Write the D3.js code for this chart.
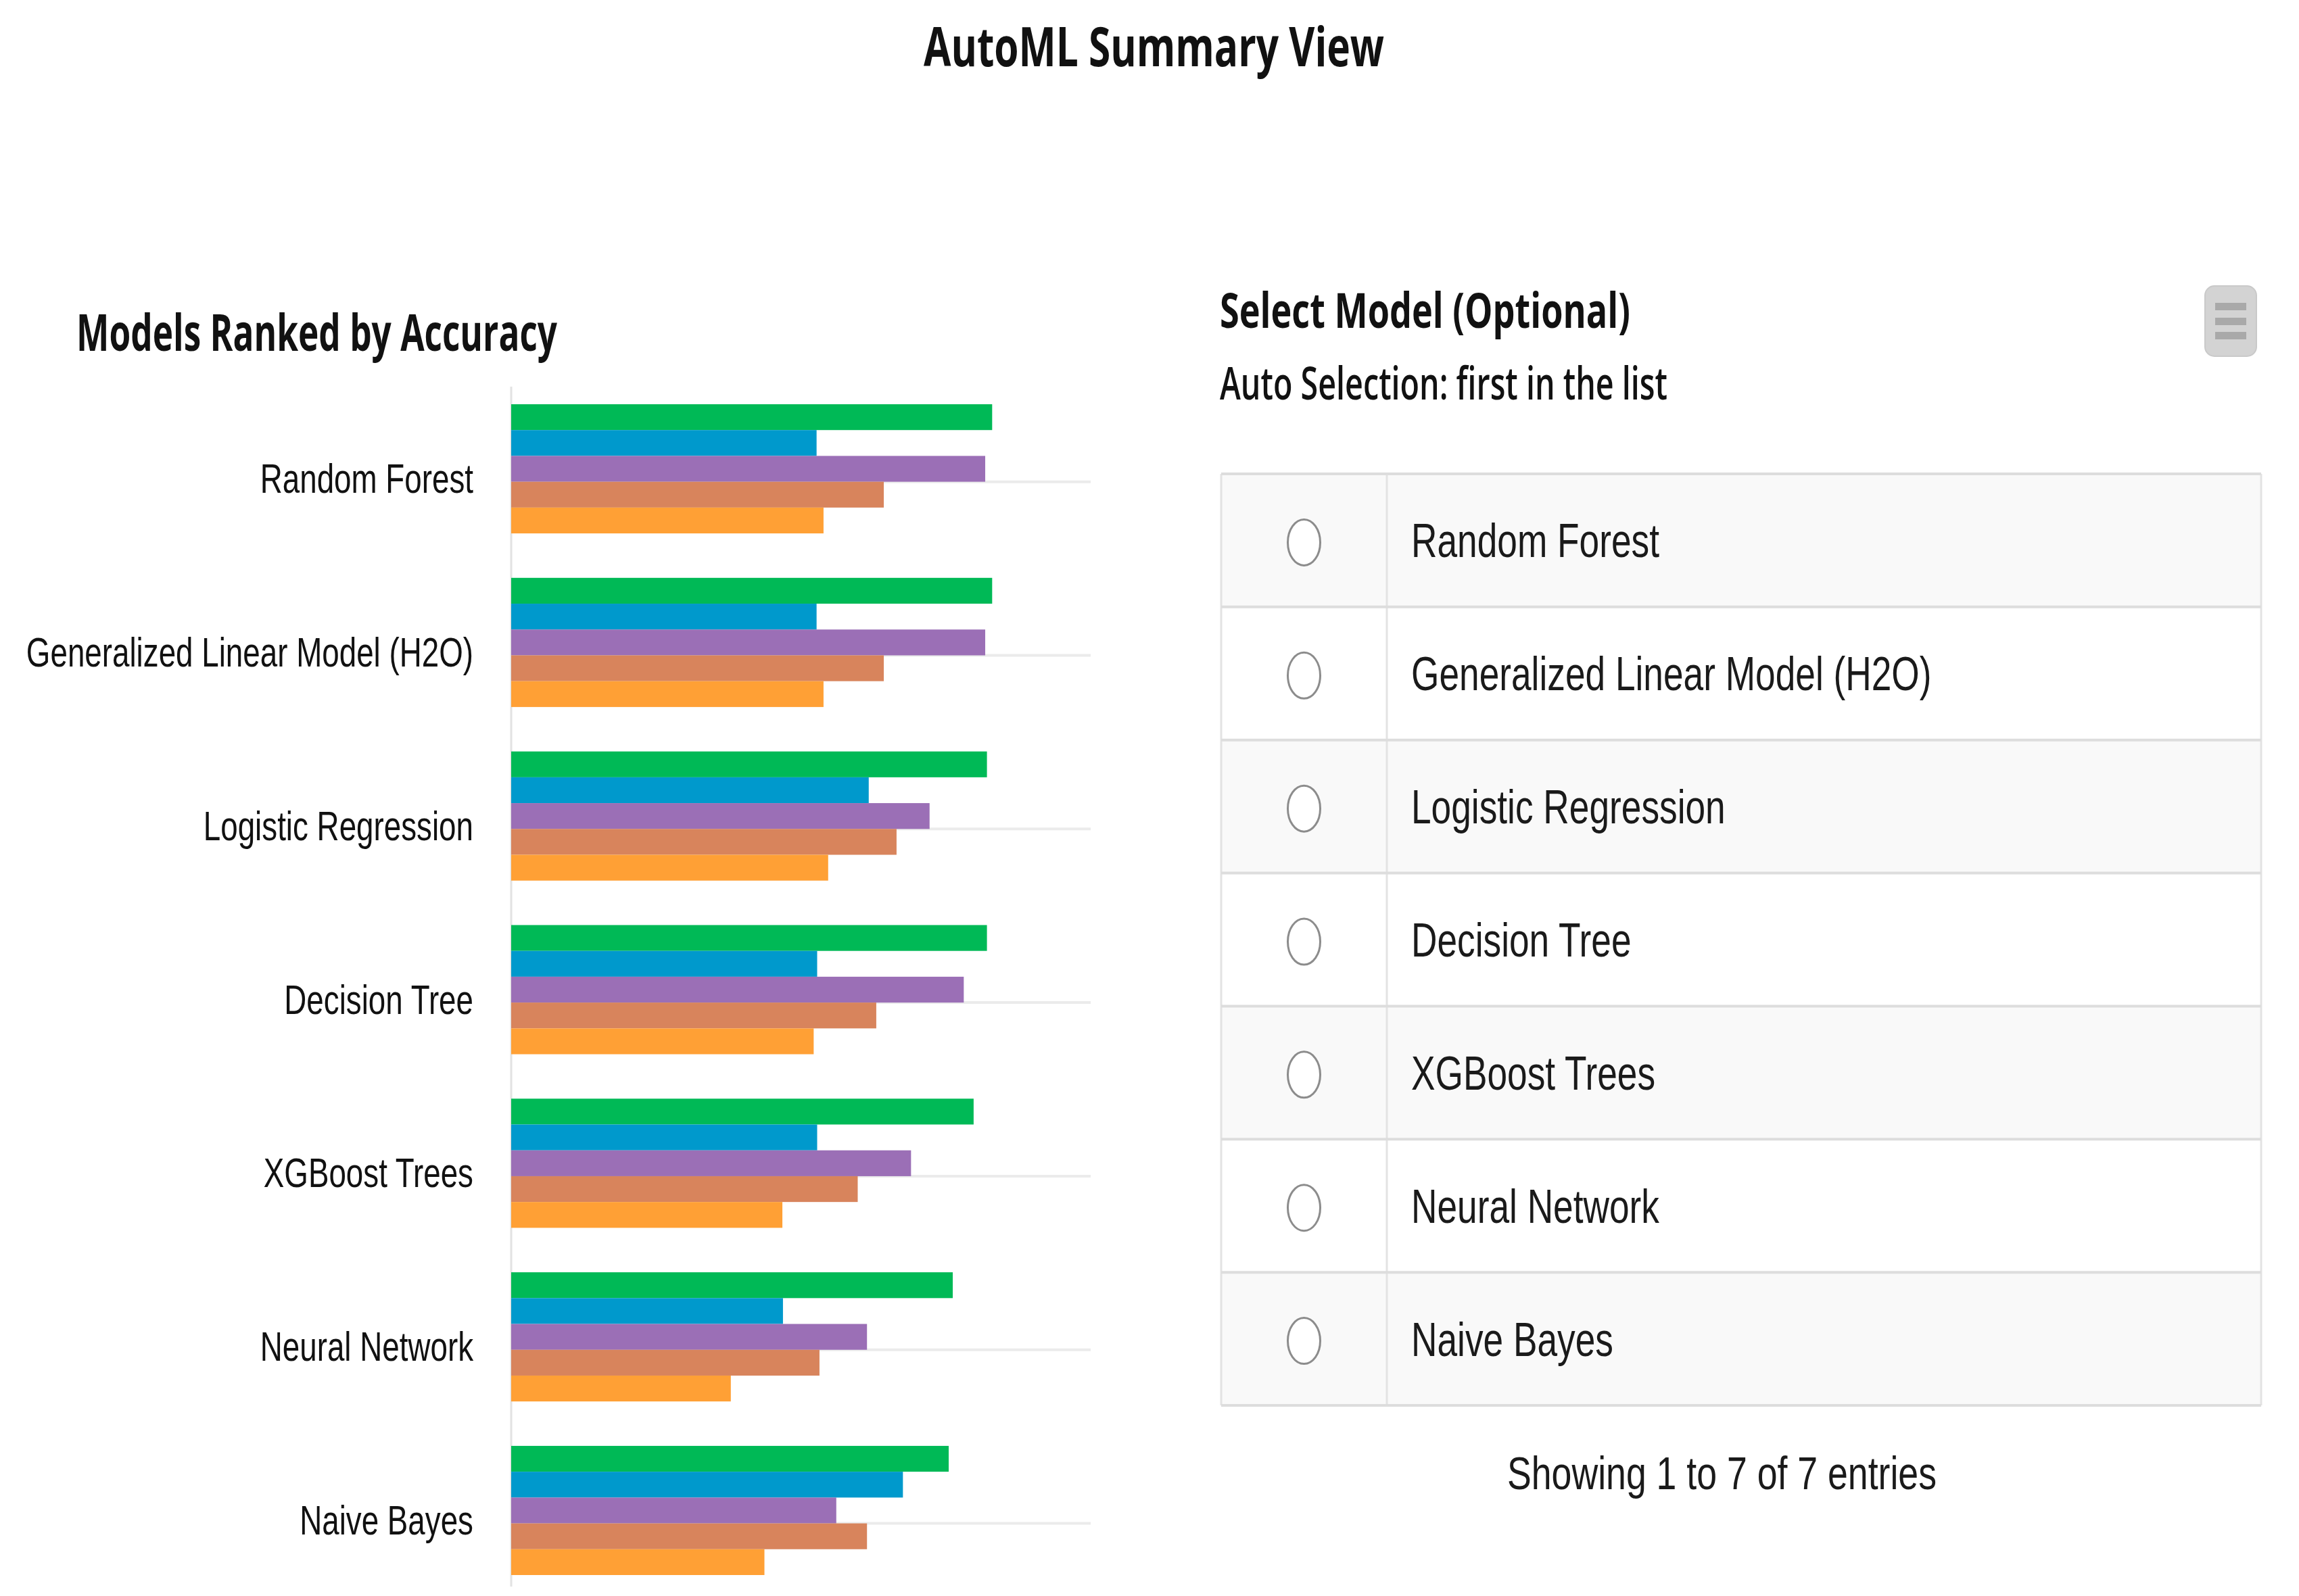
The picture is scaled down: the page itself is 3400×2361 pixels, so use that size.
<!DOCTYPE html>
<html>
<head>
<meta charset="utf-8">
<script src="https://cdn.jsdelivr.net/npm/d3@7"></script>
<style>
  html, body { margin: 0; padding: 0; background: #fff; }
  svg { display: block; }
</style>
</head>
<body>
<svg id="chart" width="3400" height="2361"></svg>
<script>
// AutoML summary view: grouped horizontal bars (left) + model picker table (right)

// ─── Data ─────────────────────────────────────────────────────────────────────
const models = [
  'Random Forest',
  'Generalized Linear Model (H2O)',
  'Logistic Regression',
  'Decision Tree',
  'XGBoost Trees',
  'Neural Network',
  'Naive Bayes',
];
const metrics   = ['Accuracy', 'Precision', 'Recall', 'F1 Score', 'Kappa'];
const accuracy  = [0.830, 0.830, 0.821, 0.821, 0.798, 0.762, 0.755];
const precision = [0.527, 0.527, 0.617, 0.528, 0.528, 0.469, 0.676];
const recall    = [0.818, 0.818, 0.722, 0.781, 0.690, 0.614, 0.561];
const f1score   = [0.643, 0.643, 0.665, 0.630, 0.598, 0.532, 0.614];
const kappa     = [0.539, 0.539, 0.547, 0.522, 0.468, 0.379, 0.437];
const metricColors = ['#00b956', '#0099cc', '#9b6fb6', '#d8845c', '#ffa035'];

const pageTitle   = 'AutoML Summary View';
const chartTitle  = 'Models Ranked by Accuracy';
const pickerTitle = 'Select Model (Optional)';
const pickerHint  = 'Auto Selection: first in the list';
const tableFooter = 'Showing 1 to 7 of 7 entries';

const rows = models.map((model, i) => ({
  model,
  values: [accuracy[i], precision[i], recall[i], f1score[i], kappa[i]],
}));

// ─── Helpers ──────────────────────────────────────────────────────────────────
const ARIAL   = '"Liberation Sans", Arial, sans-serif';
const HEAD    = '"Open Sans", "Noto Sans", sans-serif';
const SQUEEZE = 0.75;   // the source screenshot is narrowed horizontally

/** Narrow a text to a target width (or to SQUEEZE of its natural width). */
function squeeze(sel, target) {
  sel.attr('lengthAdjust', 'spacingAndGlyphs')
     .attr('textLength', function() {
       return target != null ? target : this.getComputedTextLength() * SQUEEZE;
     });
}

const svg = d3.select('#chart');

// ─── Headings ─────────────────────────────────────────────────────────────────
svg.append('text')
  .attr('x', 1366).attr('y', 98)
  .attr('font-family', HEAD).attr('font-weight', 700).attr('font-size', 80)
  .attr('fill', '#111')
  .text(pageTitle)
  .call(squeeze, 681);

svg.append('text')
  .attr('x', 113).attr('y', 519)
  .attr('font-family', HEAD).attr('font-weight', 700).attr('font-size', 75)
  .attr('fill', '#111')
  .text(chartTitle)
  .call(squeeze, 711);

svg.append('text')
  .attr('x', 1804).attr('y', 485)
  .attr('font-family', HEAD).attr('font-weight', 700).attr('font-size', 72)
  .attr('fill', '#111')
  .text(pickerTitle)
  .call(squeeze, 607);

svg.append('text')
  .attr('x', 1804).attr('y', 591)
  .attr('font-family', HEAD).attr('font-weight', 600).attr('font-size', 67)
  .attr('fill', '#111')
  .text(pickerHint)
  .call(squeeze, 662);

// ─── Bar chart ────────────────────────────────────────────────────────────────
const x  = d3.scaleLinear().domain([0, 1]).range([756, 1613]);
const y0 = d3.scaleBand().domain(models).range([598, 2330]).paddingInner(0.256);
const y1 = d3.scaleBand().domain(metrics).range([0, y0.bandwidth()]);
const color = d3.scaleOrdinal().domain(metrics).range(metricColors);

// category ticks sit on the Recall / F1 boundary, not the band centre
const tickShift = y1('F1 Score') - y0.bandwidth() / 2;

const yAxis = d3.axisLeft(y0)
  .tickSizeInner(-(x.range()[1] - x.range()[0]))
  .tickSizeOuter(0)
  .tickPadding(56);

const gAxis = svg.append('g')
  .attr('transform', `translate(${x(0)},${tickShift})`)
  .call(yAxis);
gAxis.select('.domain').remove();
gAxis.selectAll('.tick line')
  .attr('stroke', '#ebebeb')
  .attr('stroke-width', 4);
gAxis.selectAll('.tick text')
  .attr('font-family', ARIAL)
  .attr('font-size', 61)
  .attr('fill', '#111')
  .attr('dy', '0.27em')
  .call(squeeze);

svg.append('line')
  .attr('x1', x(0)).attr('x2', x(0))
  .attr('y1', 572).attr('y2', 2347)
  .attr('stroke', '#e2e2e2')
  .attr('stroke-width', 3);

svg.append('g')
  .selectAll('g')
  .data(rows)
  .join('g')
  .attr('transform', d => `translate(0,${y0(d.model)})`)
  .selectAll('rect')
  .data(d => metrics.map((k, j) => ({ k, v: d.values[j] })))
  .join('rect')
  .attr('x', x(0))
  .attr('y', d => y1(d.k))
  .attr('width', d => x(d.v) - x(0))
  .attr('height', y1.bandwidth())
  .attr('fill', d => color(d.k));

// ─── Menu button (top right) ─────────────────────────────────────────────────
const menu = svg.append('g').attr('transform', 'translate(3261,423)');
menu.append('rect')
  .attr('width', 76).attr('height', 104).attr('rx', 14)
  .attr('fill', '#d3d3d3').attr('stroke', '#c9c9c9').attr('stroke-width', 2);
menu.selectAll('rect.bar')
  .data([25, 47, 68])
  .join('rect')
  .attr('class', 'bar')
  .attr('x', 15).attr('y', d => d)
  .attr('width', 46).attr('height', 11)
  .attr('fill', '#a9a9a9');

// ─── Model table ──────────────────────────────────────────────────────────────
const T = { left: 1806, split: 2051, right: 3344, top: 701, bottom: 2079 };
const rowY = d3.scaleBand().domain(models).range([T.top, T.bottom]);
const table = svg.append('g');

table.selectAll('rect.row')
  .data(models)
  .join('rect')
  .attr('class', 'row')
  .attr('x', T.left).attr('y', d => rowY(d))
  .attr('width', T.right - T.left).attr('height', rowY.bandwidth())
  .attr('fill', (d, i) => i % 2 === 0 ? '#f9f9f9' : '#ffffff');

table.selectAll('line.v')
  .data([T.left, T.split, T.right])
  .join('line')
  .attr('class', 'v')
  .attr('x1', d => d).attr('x2', d => d)
  .attr('y1', T.top).attr('y2', T.bottom)
  .attr('stroke', '#e3e3e3').attr('stroke-width', 3);

table.selectAll('line.h')
  .data(models.map(m => rowY(m)).concat([T.bottom]))
  .join('line')
  .attr('class', 'h')
  .attr('x1', T.left).attr('x2', T.right)
  .attr('y1', d => d).attr('y2', d => d)
  .attr('stroke', '#dddddd').attr('stroke-width', 4);

table.selectAll('ellipse')
  .data(models)
  .join('ellipse')
  .attr('cx', (T.left + T.split) / 2)
  .attr('cy', d => rowY(d) + rowY.bandwidth() / 2 + 3)
  .attr('rx', 24).attr('ry', 34)
  .attr('fill', '#fff')
  .attr('stroke', '#8c8c8c').attr('stroke-width', 3);

table.selectAll('text')
  .data(models)
  .join('text')
  .attr('x', 2087)
  .attr('y', d => rowY(d) + rowY.bandwidth() / 2 + 25)
  .attr('font-family', ARIAL).attr('font-size', 71)
  .attr('fill', '#1a1a1a')
  .text(d => d)
  .call(squeeze);

svg.append('text')
  .attr('x', 2229).attr('y', 2203)
  .attr('font-family', ARIAL).attr('font-size', 69)
  .attr('fill', '#1a1a1a')
  .text(tableFooter)
  .call(squeeze, 635);
</script>
</body>
</html>
